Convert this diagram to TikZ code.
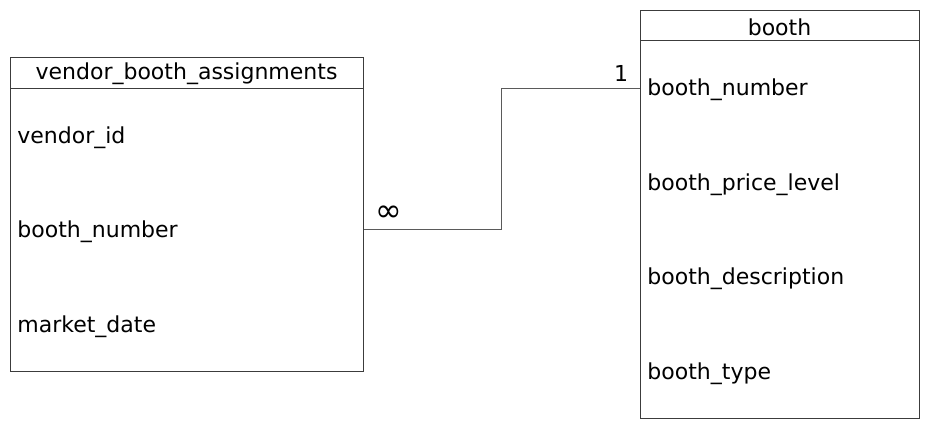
\documentclass[tikz,border=0pt]{standalone}
\usepackage{fontspec}
\setmainfont{DejaVu Sans}
\usetikzlibrary{positioning,calc}
\definecolor{edgegray}{RGB}{60,60,60}
\definecolor{linkgray}{RGB}{90,90,90}

\begin{document}
\begin{tikzpicture}[
    x=0.5pt, y=-0.5pt,
    table/.style={rectangle, draw=edgegray, line width=0.5pt, inner sep=0pt},
    field/.style={anchor=west, inner sep=0pt, font=\fontsize{11}{13}\selectfont},
    title/.style={inner sep=0pt, font=\fontsize{11}{13}\selectfont},
    link/.style={draw=linkgray, line width=0.5pt},
    card/.style={inner sep=0pt, font=\fontsize{11}{13}\selectfont}
]
\useasboundingbox (0,0) rectangle (930,430);

% Left table
\node[table, minimum width=176.5pt, minimum height=157pt] (vba) at (186.5,214) {};
\draw[edgegray, line width=0.5pt] (10,88) -- (363,88);
\node[title] (vbaTitle) at (186.5,74) {vendor\_booth\_assignments};
\node[field] (vbaVendor) at (17,137.5) {vendor\_id};
\node[field] (vbaBooth) at (17,231.5) {booth\_number};
\node[field] (vbaDate) at (17,326.5) {market\_date};

% Right table
\node[table, minimum width=139.5pt, minimum height=204pt] (booth) at (779.5,214) {};
\draw[edgegray, line width=0.5pt] (640,40) -- (919,40);
\node[title] (boothTitle) at (779.5,27) {booth};
\node[field] (boothNum) at (647,89.5) {booth\_number};
\node[field] (boothPrice) at (647,184.5) {booth\_price\_level};
\node[field] (boothDesc) at (647,278.5) {booth\_description};
\node[field] (boothType) at (647,373.5) {booth\_type};

% Relationship
\coordinate (srcEnd) at (vba.east |- 0,229);
\coordinate (dstEnd) at (booth.west |- 0,88);
\draw[link] (srcEnd) -- (501,229) |- (dstEnd);
\node[card, font=\fontsize{16}{18}\selectfont] (many) at (389,214) {∞};
\node[card] (one) at (621,73) {1};

\end{tikzpicture}
\end{document}
